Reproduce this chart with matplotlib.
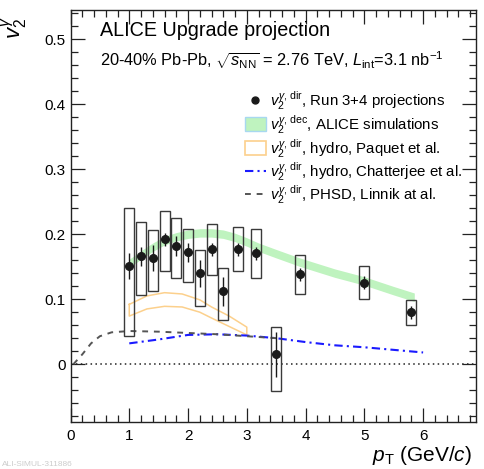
import matplotlib
matplotlib.use("Agg")
import matplotlib.pyplot as plt
from matplotlib.patches import Rectangle
from matplotlib.lines import Line2D
from matplotlib.ticker import MultipleLocator, FuncFormatter
import numpy as np

plt.rcParams['font.family'] = ['Liberation Sans', 'DejaVu Sans']
plt.rcParams['mathtext.fontset'] = 'custom'
plt.rcParams['mathtext.rm'] = 'Liberation Sans'
plt.rcParams['mathtext.it'] = 'Liberation Sans:italic'
plt.rcParams['mathtext.bf'] = 'Liberation Sans:bold'

# ---- data ----
pt = [1.0, 1.2, 1.4, 1.6, 1.8, 2.0, 2.2, 2.4, 2.6, 2.85, 3.15, 3.5, 3.9, 5.0, 5.8]
v2 = [0.151, 0.166, 0.163, 0.192, 0.182, 0.172, 0.140, 0.177, 0.112, 0.177, 0.171, 0.015, 0.138, 0.125, 0.080]
stat_err = [0.02, 0.015, 0.02, 0.01, 0.015, 0.015, 0.021, 0.01, 0.022, 0.01, 0.01, 0.035, 0.01, 0.01, 0.01]
sys_lo = [0.043, 0.106, 0.112, 0.143, 0.132, 0.126, 0.089, 0.137, 0.068, 0.143, 0.132, -0.042, 0.108, 0.101, 0.060]
sys_hi = [0.240, 0.218, 0.206, 0.236, 0.225, 0.208, 0.175, 0.215, 0.148, 0.211, 0.208, 0.057, 0.168, 0.151, 0.098]

dec_pt = [1.0, 1.2, 1.4, 1.6, 1.8, 2.0, 2.2, 2.4, 2.6, 2.8, 3.0, 3.2, 3.5, 3.9, 4.5, 5.0, 5.5, 5.85]
dec_v2 = [0.155, 0.168, 0.180, 0.190, 0.196, 0.200, 0.202, 0.202, 0.200, 0.195, 0.188, 0.180, 0.170, 0.157, 0.140, 0.128, 0.113, 0.103]

paq_pt = [1.0, 1.3, 1.6, 1.9, 2.2, 2.4, 2.7, 3.0]
paq_hi = [0.092, 0.105, 0.110, 0.108, 0.099, 0.088, 0.074, 0.057]
paq_lo = [0.074, 0.085, 0.089, 0.088, 0.080, 0.071, 0.058, 0.045]

chat_pt = [1.0, 1.5, 2.0, 2.5, 3.0, 3.5, 4.0, 4.5, 5.0, 5.5, 6.0]
chat_v2 = [0.032, 0.038, 0.045, 0.046, 0.044, 0.040, 0.034, 0.029, 0.026, 0.022, 0.018]

phsd_pt = [0.05, 0.2, 0.35, 0.5, 0.7, 1.0, 1.5, 2.0, 2.5, 3.0, 3.5]
phsd_v2 = [0.0, 0.015, 0.032, 0.043, 0.049, 0.051, 0.050, 0.048, 0.046, 0.043, 0.040]

legend_labels = [
    r'$v_{2}^{\gamma,\,\rm dir}$, Run 3+4 projections',
    r'$v_{2}^{\gamma,\,\rm dec}$, ALICE simulations',
    r'$v_{2}^{\gamma,\,\rm dir}$, hydro, Paquet et al.',
    r'$v_{2}^{\gamma,\,\rm dir}$, hydro, Chatterjee et al.',
    r'$v_{2}^{\gamma,\,\rm dir}$, PHSD, Linnik at al.',
]

GREEN = '#bff3bf'
ORANGE = '#fcd08c'
BLUE = '#1a1aff'
GRAY = '#555555'
DASHDOT = (0, (4, 2, 1, 2))
DASH = (0, (3, 3))

# ---- figure ----
W, H = 484, 469
fig = plt.figure(figsize=(W/100, H/100), dpi=100)
ax = fig.add_axes([70.5/W, 1-422/H, (476-70.5)/W, (422-10)/H])
ax.set_xlim(0, 6.9)
ax.set_ylim(-0.089, 0.545)

ax.axhline(0, color='#222222', ls=(0, (1, 2.2)), lw=1.1, zorder=1)

# decay band
ax.fill_between(dec_pt, np.array(dec_v2) - 0.0065, np.array(dec_v2) + 0.0065,
                color=GREEN, lw=0, zorder=2)

# Paquet band outline
xs = paq_pt + paq_pt[::-1] + [paq_pt[0]]
ys = paq_hi + paq_lo[::-1] + [paq_hi[0]]
ax.plot(xs, ys, color=ORANGE, lw=1.1, zorder=2)

# Chatterjee
ax.plot(chat_pt, chat_v2, color=BLUE, lw=1.5, ls=DASHDOT, zorder=3)
# PHSD
ax.plot(phsd_pt, phsd_v2, color=GRAY, lw=1.4, ls=DASH, zorder=3)

# systematic boxes
hw = 0.085
for x, lo, hi in zip(pt, sys_lo, sys_hi):
    ax.add_patch(Rectangle((x - hw, lo), 2 * hw, hi - lo, fill=False,
                           ec='#3a3a3a', lw=1.0, zorder=4))

ax.errorbar(pt, v2, yerr=stat_err, xerr=0.05, fmt='o', color='#1a1a1a', ms=5.5,
            elinewidth=1.0, capsize=0, zorder=5)

# ticks
ax.xaxis.set_major_locator(MultipleLocator(1))
ax.xaxis.set_minor_locator(MultipleLocator(0.2))
ax.yaxis.set_major_locator(MultipleLocator(0.1))
ax.yaxis.set_minor_locator(MultipleLocator(0.02))
ax.tick_params(which='both', direction='in', top=True, right=True, labelsize=11,
               color='#222222', width=0.9)
ax.tick_params(which='major', length=10)
ax.tick_params(which='minor', length=5)
ax.tick_params(axis='x', pad=5)
ax.yaxis.set_major_formatter(FuncFormatter(lambda v, p: '0' if abs(v) < 1e-9 else f'{v:.1f}'))
for s in ax.spines.values():
    s.set_linewidth(1.0)
    s.set_color('#222222')

# labels
fig.text(15/W, 1-28/H, r'$v_{2}^{\gamma}$', rotation=90, fontsize=16, ha='center', va='center')
fig.text(472/W, 1-455/H, r'$p_{\rm T}$ (GeV/$c$)', fontsize=15, ha='right', va='center')

fig.text(100/W, 1-31/H, 'ALICE Upgrade projection', fontsize=14.2, ha='left', va='center')
fig.text(100/W, 1-60/H,
         r'20-40% Pb-Pb, $\sqrt{s_{\rm NN}}$ = 2.76 TeV, $L_{\rm int}$=3.1 nb$^{-1}$',
         fontsize=11.8, ha='left', va='center')

fig.text(2/W, 1-464/H, 'ALI-SIMUL-311886', fontsize=6, color='#cccccc', ha='left', va='center')

# manual legend (figure pixel coordinates)
rows_y = [100, 124, 148, 171, 194]
hx0, hx1 = 245, 266
def fx(px):
    return px / W
def fy(py):
    return 1 - py / H

for i, (yy, lab) in enumerate(zip(rows_y, legend_labels)):
    if i == 0:
        fig.add_artist(Line2D([fx(255)], [fy(yy)], marker='o', color='#1a1a1a', ms=5, ls='none'))
    elif i == 1:
        fig.add_artist(Rectangle((fx(hx0), fy(yy + 7)), fx(hx1) - fx(hx0), 14/H,
                                 facecolor=GREEN, edgecolor='#a8d8f0', lw=1.0,
                                 transform=fig.transFigure))
    elif i == 2:
        fig.add_artist(Rectangle((fx(hx0), fy(yy + 7)), fx(hx1) - fx(hx0), 14/H,
                                 facecolor='white', edgecolor=ORANGE, lw=1.2,
                                 transform=fig.transFigure))
    elif i == 3:
        fig.add_artist(Line2D([fx(hx0), fx(hx1)], [fy(yy), fy(yy)], color=BLUE, lw=1.5, ls=DASHDOT))
    else:
        fig.add_artist(Line2D([fx(hx0), fx(hx1)], [fy(yy), fy(yy)], color=GRAY, lw=1.4, ls=DASH))
    fig.text(fx(270), fy(yy + 1), lab, fontsize=10.8, ha='left', va='center')

fig.savefig('out.png', dpi=100)
